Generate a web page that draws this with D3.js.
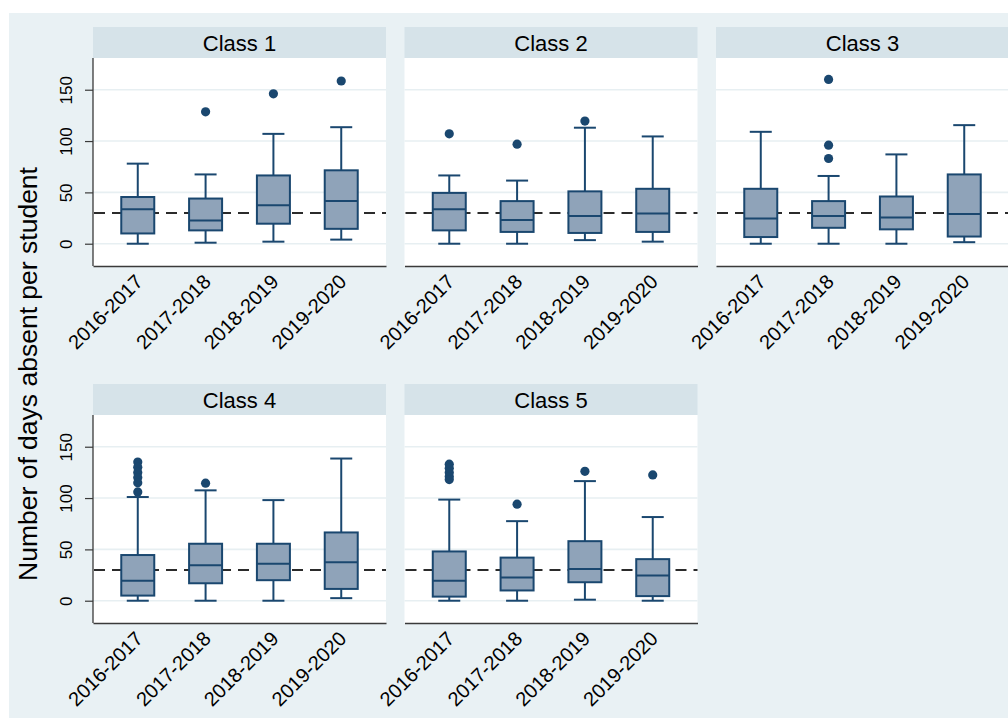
<!DOCTYPE html>
<html>
<head>
<meta charset="utf-8">
<script src="https://cdn.jsdelivr.net/npm/d3@7"></script>
<style>
  html, body { margin: 0; padding: 0; background: #ffffff; }
  svg { display: block; font-family: "Liberation Sans", Arial, sans-serif; }
</style>
</head>
<body>
<svg id="chart" width="1008" height="718"></svg>
<script>
// ---- data ----
const classes = ["Class 1", "Class 2", "Class 3", "Class 4", "Class 5"];
const years = ["2016-2017", "2017-2018", "2018-2019", "2019-2020"];
const yTicks = [0, 50, 100, 150];
const referenceValue = 30;
const yLabel = "Number of days absent per student";

// per class, per school year
const lowerWhisker = [
  [0, 1, 2, 4],
  [0, 0, 3.5, 2],
  [0, 0, 0, 1.5],
  [0, 0, 0, 2.5],
  [0, 0, 1, 0]
];
const q1 = [
  [10, 13, 19.5, 14.5],
  [13, 11.5, 10.5, 11.5],
  [6.5, 15.5, 14, 7],
  [5, 17, 20, 11.5],
  [4, 10, 18, 4.5]
];
const median = [
  [33.5, 22.5, 37.5, 41.5],
  [33.5, 23, 27, 29.5],
  [24.5, 27, 25.5, 29],
  [19.5, 34.5, 36, 37.5],
  [19.5, 22.5, 31, 24.5]
];
const q3 = [
  [45.5, 44, 66.5, 71.5],
  [49.5, 41.5, 51, 53.5],
  [53.5, 41.5, 46, 67.5],
  [44.5, 55.5, 55.5, 66.5],
  [48, 42, 58, 40.5]
];
const upperWhisker = [
  [78, 67.5, 107, 113.5],
  [66.5, 61.5, 113, 104.5],
  [109, 66, 87, 115.5],
  [101, 107.5, 98, 138.5],
  [98.5, 77.5, 116.5, 81.5]
];
const outliers = [
  [[], [128.5], [146], [158.5]],
  [[107], [97], [119.5], []],
  [[], [160, 96, 83], [], []],
  [[135, 130, 125, 120, 115, 106], [114.5], [], []],
  [[133, 129, 125, 121, 118], [94], [126], [122.5]]
];

// ---- style / layout ----
const W = 1008, H = 718;
const bgColor = "#e9f1f4";
const stripColor = "#d6e3e9";
const boxFill = "#8fa3b9";
const navy = "#1a476f";
const gridColor = "#e7eff2";

const panelW = 293, headerH = 31, plotH = 208;
const colX = [93, 404.5, 716];
const rowTop = [27, 384];

const svg = d3.select("#chart");
svg.append("rect").attr("width", W).attr("height", H).attr("fill", "#ffffff");
svg.append("rect").attr("x", 9).attr("y", 13).attr("width", W - 9).attr("height", H - 13).attr("fill", bgColor);

classes.forEach((cls, i) => {
  const col = i % 3, row = Math.floor(i / 3);
  const px = colX[col];
  const top = rowTop[row];
  const plotTop = top + headerH;
  const g = svg.append("g");

  // header strip
  g.append("rect").attr("x", px).attr("y", top).attr("width", panelW).attr("height", headerH).attr("fill", stripColor);
  g.append("text").attr("x", px + panelW / 2).attr("y", top + headerH / 2 + 8)
    .attr("text-anchor", "middle").attr("font-size", 22).attr("fill", "#000").text(cls);

  // plot area
  g.append("rect").attr("x", px).attr("y", plotTop).attr("width", panelW).attr("height", plotH).attr("fill", "#ffffff");

  const y = d3.scaleLinear().domain([-21.7, 180.9]).range([plotTop + plotH, plotTop]);
  const x = d3.scalePoint().domain(years).range([px, px + panelW]).padding(0.66);
  const boxW = 33, capW = 22;

  // grid
  g.selectAll(".grid").data(yTicks).enter().append("line")
    .attr("x1", px).attr("x2", px + panelW)
    .attr("y1", d => y(d)).attr("y2", d => y(d))
    .attr("stroke", gridColor).attr("stroke-width", 1.6);

  // reference line
  g.append("line").attr("x1", px + 1).attr("x2", px + panelW)
    .attr("y1", y(referenceValue)).attr("y2", y(referenceValue))
    .attr("stroke", "#2b2b2b").attr("stroke-width", 2).attr("stroke-dasharray", "11,7");

  // boxes
  years.forEach((yr, j) => {
    const cx = x(yr);
    const bg = g.append("g");
    // whiskers
    bg.append("line").attr("x1", cx).attr("x2", cx)
      .attr("y1", y(q3[i][j])).attr("y2", y(upperWhisker[i][j]))
      .attr("stroke", navy).attr("stroke-width", 2);
    bg.append("line").attr("x1", cx).attr("x2", cx)
      .attr("y1", y(q1[i][j])).attr("y2", y(lowerWhisker[i][j]))
      .attr("stroke", navy).attr("stroke-width", 2);
    bg.append("line").attr("x1", cx - capW / 2).attr("x2", cx + capW / 2)
      .attr("y1", y(upperWhisker[i][j])).attr("y2", y(upperWhisker[i][j]))
      .attr("stroke", navy).attr("stroke-width", 2);
    bg.append("line").attr("x1", cx - capW / 2).attr("x2", cx + capW / 2)
      .attr("y1", y(lowerWhisker[i][j])).attr("y2", y(lowerWhisker[i][j]))
      .attr("stroke", navy).attr("stroke-width", 2);
    // box
    bg.append("rect").attr("x", cx - boxW / 2).attr("y", y(q3[i][j]))
      .attr("width", boxW).attr("height", y(q1[i][j]) - y(q3[i][j]))
      .attr("fill", boxFill).attr("stroke", navy).attr("stroke-width", 2);
    bg.append("line").attr("x1", cx - boxW / 2).attr("x2", cx + boxW / 2)
      .attr("y1", y(median[i][j])).attr("y2", y(median[i][j]))
      .attr("stroke", navy).attr("stroke-width", 2);
    // outliers
    bg.selectAll("circle").data(outliers[i][j]).enter().append("circle")
      .attr("cx", cx).attr("cy", d => y(d)).attr("r", 4.6).attr("fill", navy);
  });

  // x axis
  const xa = g.append("g").attr("transform", `translate(0,${plotTop + plotH})`)
    .call(d3.axisBottom(x).tickSize(0).tickSizeOuter(0));
  xa.select(".domain").attr("stroke", "#3a3a3a").attr("stroke-width", 1.3);
  xa.selectAll("text")
    .attr("font-size", 20).attr("fill", "#000")
    .attr("font-family", "'Liberation Sans', Arial, sans-serif")
    .attr("text-anchor", "end")
    .attr("dy", "0.35em")
    .attr("transform", d => `translate(1,12) rotate(-45)`)
    .attr("y", 0).attr("x", 0);

  // y axis on left column only
  if (col === 0) {
    const ya = g.append("g").attr("transform", `translate(${px},0)`)
      .call(d3.axisLeft(y).tickValues(yTicks).tickSize(8).tickSizeOuter(0));
    ya.select(".domain").attr("stroke", "#3a3a3a").attr("stroke-width", 1.3)
      .attr("d", `M0,${plotTop}V${plotTop + plotH}`);
    ya.selectAll(".tick line").attr("stroke", "#3a3a3a").attr("stroke-width", 1.2);
    ya.selectAll("text")
      .attr("font-size", 17).attr("fill", "#000")
      .attr("font-family", "'Liberation Sans', Arial, sans-serif")
      .attr("text-anchor", "middle")
      .attr("x", 0).attr("dy", 0)
      .attr("transform", "translate(-21,0) rotate(-90)");
  }
});

// y label
svg.append("text")
  .attr("transform", "translate(37,374) rotate(-90)")
  .attr("text-anchor", "middle").attr("font-size", 26.5).attr("fill", "#000")
  .text(yLabel);
</script>
</body>
</html>
